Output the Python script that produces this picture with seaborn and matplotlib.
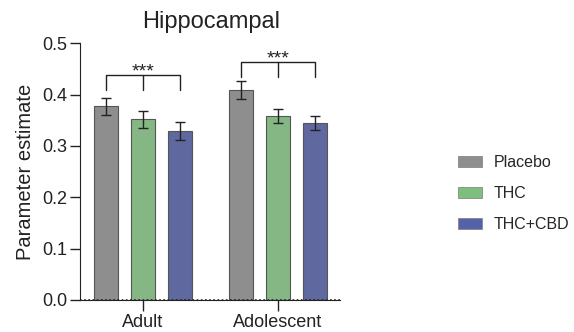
import numpy as np
import pandas as pd
import matplotlib
matplotlib.use("Agg")
import matplotlib.pyplot as plt
import seaborn as sns
from matplotlib.patches import Patch

# ------------------------------------------------------------
# DATA
# ------------------------------------------------------------
groups = ["Adult", "Adolescent"]
conditions = ["Placebo", "THC", "THC+CBD"]
means_adult = [0.377, 0.352, 0.329]
means_adolescent = [0.409, 0.358, 0.345]
sem_adult = [0.017, 0.017, 0.017]
sem_adolescent = [0.017, 0.014, 0.014]
colors = ["#8e8e8e", "#7dbf7d", "#5462ab"]

# significance brackets: (bracket top, leg bottom) per group
bracket_adult = (0.438, 0.409)
bracket_adolescent = (0.464, 0.435)
sig_label = "***"

rows = []
for g, means in zip(groups, [means_adult, means_adolescent]):
    for c, m in zip(conditions, means):
        rows.append({"Group": g, "Condition": c, "Value": m})
df = pd.DataFrame(rows)

sns.set_style("ticks")
plt.rcParams["font.family"] = ["Liberation Sans", "DejaVu Sans"]

fig = plt.figure(figsize=(5.74, 3.32), dpi=100)
ax = fig.add_axes([0.139, 0.0964, 0.453, 0.7732])

sns.barplot(data=df, x="Group", y="Value", hue="Condition", order=groups,
            hue_order=conditions, palette=colors, width=0.82, gap=0.35,
            errorbar=None, edgecolor="#555555", linewidth=0.8,
            legend=False, ax=ax)

# bar containers, one per condition (keep before errorbars add more)
bar_conts = list(ax.containers)

# error bars
sems = {"Adult": sem_adult, "Adolescent": sem_adolescent}
for ci, cont in enumerate(bar_conts):
    for gi, bar in enumerate(cont):
        xc = bar.get_x() + bar.get_width() / 2
        ax.errorbar(xc, bar.get_height(), yerr=sems[groups[gi]][ci],
                    color="#222222", capsize=3.8, elinewidth=1.0,
                    capthick=1.0, zorder=5)

# significance brackets
def bracket(gi, y_top, y_leg, label):
    xs = [bar_conts[ci][gi].get_x() + bar_conts[ci][gi].get_width() / 2
          for ci in range(3)]
    ax.plot([xs[0], xs[0], xs[2], xs[2]], [y_leg, y_top, y_top, y_leg],
            color="#222222", lw=1.0, clip_on=False)
    ax.plot([xs[1], xs[1]], [y_top, y_leg], color="#222222", lw=1.0)
    ax.annotate(label, (xs[1], y_top), xytext=(0, -1), textcoords="offset points",
                ha="center", va="baseline", fontsize=14, color="#222222")

bracket(0, *bracket_adult, sig_label)
bracket(1, *bracket_adolescent, sig_label)

ax.set_ylim(0, 0.5)
ax.set_xlim(-0.467, 1.459)
ax.set_yticks([0.0, 0.1, 0.2, 0.3, 0.4, 0.5])
ax.set_yticklabels(["0.0", "0.1", "0.2", "0.3", "0.4", "0.5"])
ax.axhline(0, color="#222222", lw=1.2, ls=(0, (1, 1.5)), zorder=6)

sns.despine(ax=ax)
ax.spines["left"].set_color("#222222")
ax.spines["bottom"].set_color("#222222")
ax.tick_params(axis="y", labelsize=13, length=7, width=1, pad=2, colors="#222222")
ax.tick_params(axis="x", labelsize=13, length=8, width=1, pad=2, colors="#222222")
ax.set_xlabel("")
ax.set_ylabel("Parameter estimate", fontsize=14.5, color="#222222", labelpad=5)
ax.set_title("")
fig.text(0.367, 0.915, "Hippocampal", ha="center", va="baseline",
         fontsize=17, color="#222222")

handles = [Patch(facecolor=c, edgecolor="#888888", lw=0.6) for c in colors]
fig.legend(handles, conditions, loc="center left", bbox_to_anchor=(0.773, 0.416),
           frameon=False, fontsize=11.5, handlelength=1.5, handleheight=0.65,
           labelspacing=1.0, handletextpad=0.75)

fig.savefig("out.png", dpi=100)
